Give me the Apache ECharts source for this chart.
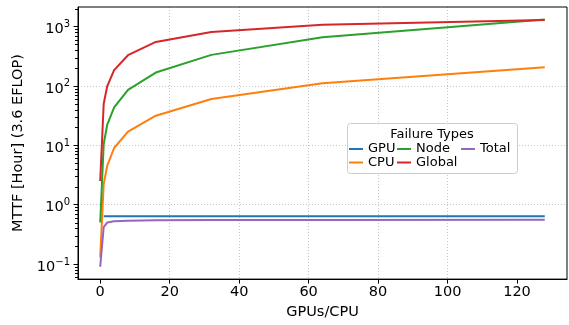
<!DOCTYPE html>
<html><head><meta charset="utf-8">
<script src="https://cdn.jsdelivr.net/npm/echarts@6/dist/echarts.min.js"></script>
<style>html,body{margin:0;padding:0;background:#fff}#c{width:569px;height:325px}</style>
</head><body><div id="c"></div>
<script>
// ---- data ----
const gpusPerCpu = [0, 1, 2, 4, 8, 16, 32, 64, 128];
const gpuMttf    = [null, 0.64, 0.64, 0.64, 0.64, 0.64, 0.64, 0.64, 0.64];
const cpuMttf    = [0.13, 2.2, 4.5, 9, 17, 31.5, 60, 111, 207];
const nodeMttf   = [0.5, 10.5, 22, 43.5, 86, 168, 333, 660, 1310];
const globalMttf = [2.5, 50, 98, 184, 329, 550, 809, 1074, 1290];
const totalMttf  = [0.09, 0.42, 0.50, 0.525, 0.535, 0.545, 0.55, 0.553, 0.555];

const seriesNames  = ['GPU', 'CPU', 'Node', 'Global', 'Total'];
const seriesColors = ['#1f77b4', '#ff7f0e', '#2ca02c', '#d62728', '#9467bd'];
const seriesValues = [gpuMttf, cpuMttf, nodeMttf, globalMttf, totalMttf];

const xTickValues = [0, 20, 40, 60, 80, 100, 120];
const yTickValues = [0.1, 1, 10, 100, 1000];
const yMinorTickValues = [0.06, 0.07, 0.08, 0.09,
  0.2, 0.3, 0.4, 0.5, 0.6, 0.7, 0.8, 0.9,
  2, 3, 4, 5, 6, 7, 8, 9,
  20, 30, 40, 50, 60, 70, 80, 90,
  200, 300, 400, 500, 600, 700, 800, 900, 2000];

const FONT = 'DejaVu Sans';
const X_MIN = -6.4, X_MAX = 134.4;
const Y_MIN = Math.pow(10, -1.254), Y_MAX = Math.pow(10, 3.329);

const supMap = {'-1': '\u22121', '0': '0', '1': '1', '2': '2', '3': '3'};

const chart = echarts.init(document.getElementById('c'), null, {renderer: 'canvas'});

const series = seriesNames.map((name, i) => ({
  name: name,
  type: 'line',
  xAxisIndex: 0,
  yAxisIndex: 0,
  showSymbol: false,
  symbol: 'none',
  connectNulls: false,
  lineStyle: {width: 2, color: seriesColors[i]},
  itemStyle: {color: seriesColors[i]},
  data: gpusPerCpu.map((x, j) => [x, seriesValues[i][j]]),
  z: 2 + i * 0.01
}));

// legend: one component per entry, laid out in matplotlib's column-major grid
const legendSlots = [
  {name: 'GPU', left: 349, top: 141},
  {name: 'CPU', left: 349, top: 154.5},
  {name: 'Node', left: 397, top: 141},
  {name: 'Global', left: 397, top: 154.5},
  {name: 'Total', left: 461, top: 141}
];
const legends = legendSlots.map(s => ({
  data: [s.name],
  left: s.left, top: s.top,
  padding: 0,
  icon: 'rect',
  itemWidth: 14, itemHeight: 2,
  itemGap: 0,
  selectedMode: false,
  z: 20,
  textStyle: {fontFamily: FONT, fontSize: 13, color: '#000', lineHeight: 16}
}));

chart.setOption({
  animation: false,
  backgroundColor: '#fff',
  grid: {left: 78, right: 2, top: 7, bottom: 44, show: true, borderColor: '#000', borderWidth: 1, z: 3},
  legend: legends,
  graphic: [
    {type: 'rect', z: 10, shape: {x: 347.5, y: 123.5, width: 170, height: 50, r: 3},
     style: {fill: 'rgba(255,255,255,0.85)', stroke: '#cccccc', lineWidth: 1}},
    {type: 'text', z: 11, x: 432, y: 135,
     style: {text: 'Failure Types', fontFamily: FONT, fontSize: 13, fill: '#000', align: 'center', verticalAlign: 'middle'}}
  ],
  xAxis: [{
    type: 'value', min: X_MIN, max: X_MAX, splitNumber: 7,
    name: 'GPUs/CPU', nameLocation: 'middle', nameGap: 23,
    nameTextStyle: {fontFamily: FONT, fontSize: 14.5, color: '#000'},
    axisLine: {show: true, onZero: false, lineStyle: {color: '#000', width: 1}},
    axisTick: {show: true, length: 4.5, customValues: xTickValues, lineStyle: {color: '#000', width: 1}},
    axisLabel: {customValues: xTickValues, margin: 6, fontFamily: FONT, fontSize: 14.5, color: '#000'},
    splitLine: {show: true, showMinLine: false, showMaxLine: false, lineStyle: {color: '#c8c8c8', width: 1, type: [1, 2]}}
  }],
  yAxis: [{
    type: 'log', logBase: 10, min: Y_MIN, max: Y_MAX, position: 'left',
    name: 'MTTF [Hour] (3.6 EFLOP)', nameLocation: 'middle', nameGap: 52,
    nameTextStyle: {fontFamily: FONT, fontSize: 14.5, color: '#000'},
    axisLine: {show: true, onZero: false, lineStyle: {color: '#000', width: 1}},
    axisTick: {show: true, length: 4.5, customValues: yTickValues, lineStyle: {color: '#000', width: 1}},
    axisLabel: {
      customValues: yTickValues, margin: 8, padding: [6, 0, 0, 0],
      formatter: function (v) {
        const e = Math.round(Math.log10(v));
        return '{b|10}{s|' + supMap[String(e)] + '}';
      },
      rich: {
        b: {fontFamily: FONT, fontSize: 14.5, color: '#000', lineHeight: 20},
        s: {fontFamily: FONT, fontSize: 10, color: '#000', verticalAlign: 'top', lineHeight: 10}
      }
    },
    splitLine: {show: true, showMinLine: false, showMaxLine: false, lineStyle: {color: '#c8c8c8', width: 1, type: [1, 2]}}
  }],
  series: series
});

// log-axis minor ticks on the left spine, positioned through the axis scale
const axisX = Math.round(chart.convertToPixel({xAxisIndex: 0}, X_MIN)) + 0.5;
const minorTickEls = yMinorTickValues.map(v => {
  const y = Math.round(chart.convertToPixel({yAxisIndex: 0}, v)) + 0.5;
  return {type: 'line', z: 50, silent: true,
          shape: {x1: axisX - 3.5, y1: y, x2: axisX, y2: y},
          style: {stroke: '#000', lineWidth: 1}};
});
chart.setOption({graphic: [
  {type: 'rect', z: 10, shape: {x: 347.5, y: 123.5, width: 170, height: 50, r: 3},
   style: {fill: 'rgba(255,255,255,0.85)', stroke: '#cccccc', lineWidth: 1}},
  {type: 'text', z: 11, x: 432, y: 135,
   style: {text: 'Failure Types', fontFamily: FONT, fontSize: 13, fill: '#000', align: 'center', verticalAlign: 'middle'}}
].concat(minorTickEls)}, {replaceMerge: ['graphic']});
</script>
</body></html>
